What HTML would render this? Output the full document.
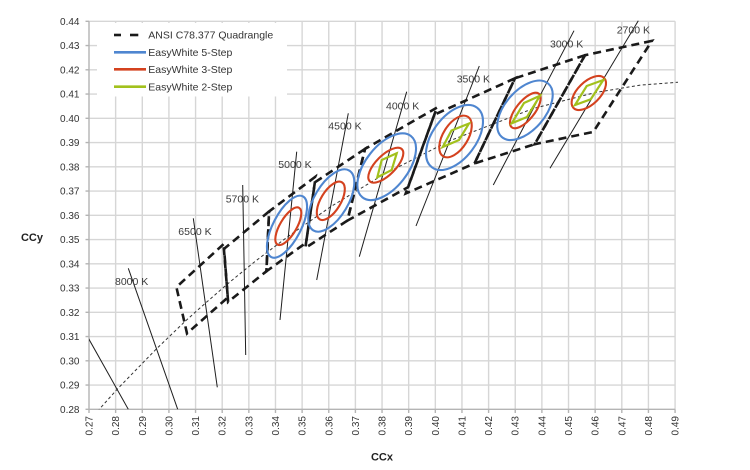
<!DOCTYPE html>
<html>
<head>
<meta charset="utf-8">
<style>
  html, body { margin: 0; padding: 0; background: #ffffff; }
  body { width: 750px; height: 470px; overflow: hidden; }
  svg { display: block; font-family: "Liberation Sans", Arial, sans-serif; }
</style>
</head>
<body>
<svg width="750" height="470" viewBox="0 0 750 470" xmlns="http://www.w3.org/2000/svg">
  <defs>
    <clipPath id="plot">
      <rect x="89" y="20" width="589" height="389.3"/>
    </clipPath>
  </defs>
  <rect x="0" y="0" width="750" height="470" fill="#ffffff"/>

  <!-- grid -->
  <g stroke="#d6d6d6" stroke-width="1.4" fill="none">
    <line x1="89" y1="21.3" x2="675.1" y2="21.3"/>
    <line x1="89" y1="45.55" x2="675.1" y2="45.55"/>
    <line x1="89" y1="69.8" x2="675.1" y2="69.8"/>
    <line x1="89" y1="94.05" x2="675.1" y2="94.05"/>
    <line x1="89" y1="118.3" x2="675.1" y2="118.3"/>
    <line x1="89" y1="142.55" x2="675.1" y2="142.55"/>
    <line x1="89" y1="166.8" x2="675.1" y2="166.8"/>
    <line x1="89" y1="191.05" x2="675.1" y2="191.05"/>
    <line x1="89" y1="215.3" x2="675.1" y2="215.3"/>
    <line x1="89" y1="239.55" x2="675.1" y2="239.55"/>
    <line x1="89" y1="263.8" x2="675.1" y2="263.8"/>
    <line x1="89" y1="288.05" x2="675.1" y2="288.05"/>
    <line x1="89" y1="312.3" x2="675.1" y2="312.3"/>
    <line x1="89" y1="336.55" x2="675.1" y2="336.55"/>
    <line x1="89" y1="360.8" x2="675.1" y2="360.8"/>
    <line x1="89" y1="385.05" x2="675.1" y2="385.05"/>

    <line x1="115.64" y1="21.3" x2="115.64" y2="409.3"/>
    <line x1="142.28" y1="21.3" x2="142.28" y2="409.3"/>
    <line x1="168.92" y1="21.3" x2="168.92" y2="409.3"/>
    <line x1="195.56" y1="21.3" x2="195.56" y2="409.3"/>
    <line x1="222.2" y1="21.3" x2="222.2" y2="409.3"/>
    <line x1="248.84" y1="21.3" x2="248.84" y2="409.3"/>
    <line x1="275.48" y1="21.3" x2="275.48" y2="409.3"/>
    <line x1="302.12" y1="21.3" x2="302.12" y2="409.3"/>
    <line x1="328.76" y1="21.3" x2="328.76" y2="409.3"/>
    <line x1="355.4" y1="21.3" x2="355.4" y2="409.3"/>
    <line x1="382.04" y1="21.3" x2="382.04" y2="409.3"/>
    <line x1="408.68" y1="21.3" x2="408.68" y2="409.3"/>
    <line x1="435.32" y1="21.3" x2="435.32" y2="409.3"/>
    <line x1="461.96" y1="21.3" x2="461.96" y2="409.3"/>
    <line x1="488.6" y1="21.3" x2="488.6" y2="409.3"/>
    <line x1="515.24" y1="21.3" x2="515.24" y2="409.3"/>
    <line x1="541.88" y1="21.3" x2="541.88" y2="409.3"/>
    <line x1="568.52" y1="21.3" x2="568.52" y2="409.3"/>
    <line x1="595.16" y1="21.3" x2="595.16" y2="409.3"/>
    <line x1="621.8" y1="21.3" x2="621.8" y2="409.3"/>
    <line x1="648.44" y1="21.3" x2="648.44" y2="409.3"/>
    <line x1="675.08" y1="21.3" x2="675.08" y2="409.3"/>
  </g>

  <!-- axes -->
  <g stroke="#b4b4b4" stroke-width="1.4" fill="none">
    <line x1="89" y1="21.3" x2="89" y2="409.3"/>
    <line x1="89" y1="409.3" x2="675.1" y2="409.3"/>
    <!-- y ticks -->
    <line x1="85.5" y1="21.3" x2="89" y2="21.3"/>
    <line x1="85.5" y1="45.55" x2="89" y2="45.55"/>
    <line x1="85.5" y1="69.8" x2="89" y2="69.8"/>
    <line x1="85.5" y1="94.05" x2="89" y2="94.05"/>
    <line x1="85.5" y1="118.3" x2="89" y2="118.3"/>
    <line x1="85.5" y1="142.55" x2="89" y2="142.55"/>
    <line x1="85.5" y1="166.8" x2="89" y2="166.8"/>
    <line x1="85.5" y1="191.05" x2="89" y2="191.05"/>
    <line x1="85.5" y1="215.3" x2="89" y2="215.3"/>
    <line x1="85.5" y1="239.55" x2="89" y2="239.55"/>
    <line x1="85.5" y1="263.8" x2="89" y2="263.8"/>
    <line x1="85.5" y1="288.05" x2="89" y2="288.05"/>
    <line x1="85.5" y1="312.3" x2="89" y2="312.3"/>
    <line x1="85.5" y1="336.55" x2="89" y2="336.55"/>
    <line x1="85.5" y1="360.8" x2="89" y2="360.8"/>
    <line x1="85.5" y1="385.05" x2="89" y2="385.05"/>
    <line x1="85.5" y1="409.3" x2="89" y2="409.3"/>
    <!-- x ticks -->
    <line x1="89" y1="409.3" x2="89" y2="413"/>
    <line x1="115.64" y1="409.3" x2="115.64" y2="413"/>
    <line x1="142.28" y1="409.3" x2="142.28" y2="413"/>
    <line x1="168.92" y1="409.3" x2="168.92" y2="413"/>
    <line x1="195.56" y1="409.3" x2="195.56" y2="413"/>
    <line x1="222.2" y1="409.3" x2="222.2" y2="413"/>
    <line x1="248.84" y1="409.3" x2="248.84" y2="413"/>
    <line x1="275.48" y1="409.3" x2="275.48" y2="413"/>
    <line x1="302.12" y1="409.3" x2="302.12" y2="413"/>
    <line x1="328.76" y1="409.3" x2="328.76" y2="413"/>
    <line x1="355.4" y1="409.3" x2="355.4" y2="413"/>
    <line x1="382.04" y1="409.3" x2="382.04" y2="413"/>
    <line x1="408.68" y1="409.3" x2="408.68" y2="413"/>
    <line x1="435.32" y1="409.3" x2="435.32" y2="413"/>
    <line x1="461.96" y1="409.3" x2="461.96" y2="413"/>
    <line x1="488.6" y1="409.3" x2="488.6" y2="413"/>
    <line x1="515.24" y1="409.3" x2="515.24" y2="413"/>
    <line x1="541.88" y1="409.3" x2="541.88" y2="413"/>
    <line x1="568.52" y1="409.3" x2="568.52" y2="413"/>
    <line x1="595.16" y1="409.3" x2="595.16" y2="413"/>
    <line x1="621.8" y1="409.3" x2="621.8" y2="413"/>
    <line x1="648.44" y1="409.3" x2="648.44" y2="413"/>
    <line x1="675.08" y1="409.3" x2="675.08" y2="413"/>
  </g>

  <!-- y tick labels -->
  <g font-size="10" fill="#333333" text-anchor="end">
    <text x="79.5" y="24.8">0.44</text>
    <text x="79.5" y="49.05">0.43</text>
    <text x="79.5" y="73.3">0.42</text>
    <text x="79.5" y="97.55">0.41</text>
    <text x="79.5" y="121.8">0.40</text>
    <text x="79.5" y="146.05">0.39</text>
    <text x="79.5" y="170.3">0.38</text>
    <text x="79.5" y="194.55">0.37</text>
    <text x="79.5" y="218.8">0.36</text>
    <text x="79.5" y="243.05">0.35</text>
    <text x="79.5" y="267.3">0.34</text>
    <text x="79.5" y="291.55">0.33</text>
    <text x="79.5" y="315.8">0.32</text>
    <text x="79.5" y="340.05">0.31</text>
    <text x="79.5" y="364.3">0.30</text>
    <text x="79.5" y="388.55">0.29</text>
    <text x="79.5" y="412.8">0.28</text>
  </g>

  <!-- x tick labels (rotated) -->
  <g font-size="10" fill="#333333" text-anchor="end">
    <text transform="translate(92.5,416) rotate(-90)">0.27</text>
    <text transform="translate(119.14,416) rotate(-90)">0.28</text>
    <text transform="translate(145.78,416) rotate(-90)">0.29</text>
    <text transform="translate(172.42,416) rotate(-90)">0.30</text>
    <text transform="translate(199.06,416) rotate(-90)">0.31</text>
    <text transform="translate(225.7,416) rotate(-90)">0.32</text>
    <text transform="translate(252.34,416) rotate(-90)">0.33</text>
    <text transform="translate(278.98,416) rotate(-90)">0.34</text>
    <text transform="translate(305.62,416) rotate(-90)">0.35</text>
    <text transform="translate(332.26,416) rotate(-90)">0.36</text>
    <text transform="translate(358.9,416) rotate(-90)">0.37</text>
    <text transform="translate(385.54,416) rotate(-90)">0.38</text>
    <text transform="translate(412.18,416) rotate(-90)">0.39</text>
    <text transform="translate(438.82,416) rotate(-90)">0.40</text>
    <text transform="translate(465.46,416) rotate(-90)">0.41</text>
    <text transform="translate(492.1,416) rotate(-90)">0.42</text>
    <text transform="translate(518.74,416) rotate(-90)">0.43</text>
    <text transform="translate(545.38,416) rotate(-90)">0.44</text>
    <text transform="translate(572.02,416) rotate(-90)">0.45</text>
    <text transform="translate(598.66,416) rotate(-90)">0.46</text>
    <text transform="translate(625.3,416) rotate(-90)">0.47</text>
    <text transform="translate(651.94,416) rotate(-90)">0.48</text>
    <text transform="translate(678.58,416) rotate(-90)">0.49</text>
  </g>

  <!-- axis titles -->
  <text x="382" y="460.5" font-size="11" font-weight="bold" fill="#222" text-anchor="middle">CCx</text>
  <text x="32" y="241" font-size="11" font-weight="bold" fill="#222" text-anchor="middle">CCy</text>

  <g clip-path="url(#plot)">
    <!-- Planckian locus -->
    <polyline fill="none" stroke="#333" stroke-width="1" stroke-dasharray="3 2.5"
      points="93.8,415.4 117.5,388.9 156.1,349.2 186,320.5 204.9,303.6 227.8,283.7 255.5,261.1 289.1,235.7 330.9,206.6 383.4,174.6 449.4,140.9 533.6,108.4 594.9,92.6 640.4,85.1 689.2,81.4"/>

    <!-- isotemperature lines -->
    <g stroke="#1e1e1e" stroke-width="1" fill="none">
      <line x1="80" y1="323.3" x2="128.3" y2="409.3"/>
      <line x1="128.3" y1="268.3" x2="177.7" y2="409.3"/>
      <line x1="193.3" y1="218.3" x2="217.3" y2="387.3"/>
      <line x1="242.7" y1="185" x2="245.7" y2="355"/>
      <line x1="296.7" y1="151.7" x2="280" y2="320"/>
      <line x1="348.3" y1="113.3" x2="316.7" y2="280"/>
      <line x1="406.7" y1="91.7" x2="359.3" y2="256.7"/>
      <line x1="479.3" y1="66" x2="416" y2="226"/>
      <line x1="574" y1="30.7" x2="493.3" y2="185"/>
      <line x1="638.3" y1="20.7" x2="550" y2="168.3"/>
    </g>
  </g>

  <!-- ANSI quadrangles -->
  <g fill="none" stroke="#1a1a1a" stroke-width="2.6" stroke-dasharray="8 5">
    <path d="M651.9,40.9 L585,55.2 L534.7,144.2 L593.3,131.9 Z"/>
    <path d="M585,55.2 L515,78.3 L474.5,163.4 L534.7,144.2 Z"/>
    <path d="M515,78.3 L434.3,114.7 L405.7,193.5 L474.5,163.4 Z"/>
    <path d="M436.9,107.6 L365,148.9 L347.4,220.6 L408.1,187.2 Z"/>
    <path d="M365,148.9 L314.9,182.3 L305.3,248 L347.4,220.6 Z"/>
    <path d="M315.7,176.5 L269.1,211.4 L266.4,271.3 L306.1,242.7 Z"/>
    <path d="M269.1,211.4 L224.1,248.8 L228.1,301.9 L266.4,271.3 Z"/>
    <path d="M223.5,244.2 L176.4,287.1 L187,333.4 L227.8,297.5 Z"/>
  </g>

  <!-- EasyWhite 5-step (blue) -->
  <g fill="none" stroke="#4f86d0" stroke-width="2.1">
    <ellipse cx="287" cy="226.7" rx="34.2" ry="13.9" transform="rotate(-62.5 287 226.7)"/>
    <ellipse cx="331.3" cy="200.5" rx="34.9" ry="16.8" transform="rotate(-59.1 331.3 200.5)"/>
    <ellipse cx="386.7" cy="166.7" rx="39.1" ry="21" transform="rotate(-51.7 386.7 166.7)"/>
    <ellipse cx="454.5" cy="137.5" rx="37.4" ry="21.6" transform="rotate(-52.6 454.5 137.5)"/>
    <ellipse cx="525" cy="110.3" rx="35.4" ry="19.9" transform="rotate(-48.9 525 110.3)"/>
  </g>

  <!-- EasyWhite 3-step (red) -->
  <g fill="none" stroke="#d4421f" stroke-width="2.1">
    <ellipse cx="288.3" cy="226.2" rx="21.3" ry="8.3" transform="rotate(-59.4 288.3 226.2)"/>
    <ellipse cx="330.8" cy="200.8" rx="21.6" ry="9.9" transform="rotate(-58.9 330.8 200.8)"/>
    <ellipse cx="385.8" cy="165.2" rx="22.7" ry="9.8" transform="rotate(-45 385.8 165.2)"/>
    <ellipse cx="455.5" cy="136.5" rx="23.3" ry="12.4" transform="rotate(-57.9 455.5 136.5)"/>
    <ellipse cx="525.3" cy="110.5" rx="21.6" ry="9.2" transform="rotate(-51.2 525.3 110.5)"/>
    <ellipse cx="588.8" cy="93" rx="21.4" ry="11.2" transform="rotate(-44.4 588.8 93)"/>
  </g>

  <!-- EasyWhite 2-step (green) -->
  <g fill="none" stroke="#a2c11c" stroke-width="2.2" stroke-linejoin="miter">
    <path d="M396.7,153.3 L381.7,160 L377.3,177.3 L391.7,170 Z"/>
    <path d="M469,123.5 L451.5,130.5 L442.7,147 L459,140 Z"/>
    <path d="M540,95.7 L524,103 L511.7,123.3 L527,117 Z"/>
    <path d="M603.3,80 L586.7,86 L575,105 L590.7,99.3 Z"/>
  </g>

  <!-- CCT labels -->
  <g font-size="10.5" fill="#3a3a3a">
    <text x="115" y="285">8000 K</text>
    <text x="178.3" y="235">6500 K</text>
    <text x="225.7" y="202.3">5700 K</text>
    <text x="278.3" y="168">5000 K</text>
    <text x="328.3" y="129.3">4500 K</text>
    <text x="386" y="109.3">4000 K</text>
    <text x="456.7" y="82.3">3500 K</text>
    <text x="550" y="47.3">3000 K</text>
    <text x="616.7" y="33.3">2700 K</text>
  </g>

  <!-- legend -->
  <rect x="97" y="23" width="190" height="73.5" fill="#ffffff"/>
  <g stroke-width="2.6">
    <line x1="114" y1="35" x2="121" y2="35" stroke="#1a1a1a"/>
    <line x1="130" y1="35" x2="138.3" y2="35" stroke="#1a1a1a"/>
    <line x1="114" y1="52.3" x2="146" y2="52.3" stroke="#4f86d0"/>
    <line x1="114" y1="69.3" x2="146" y2="69.3" stroke="#d4421f"/>
    <line x1="114" y1="86.7" x2="146" y2="86.7" stroke="#a2c11c"/>
  </g>
  <g font-size="10.5" fill="#333333">
    <text x="148.3" y="38.7">ANSI C78.377 Quadrangle</text>
    <text x="148.3" y="56">EasyWhite 5-Step</text>
    <text x="148.3" y="73">EasyWhite 3-Step</text>
    <text x="148.3" y="90.4">EasyWhite 2-Step</text>
  </g>
</svg>
</body>
</html>
